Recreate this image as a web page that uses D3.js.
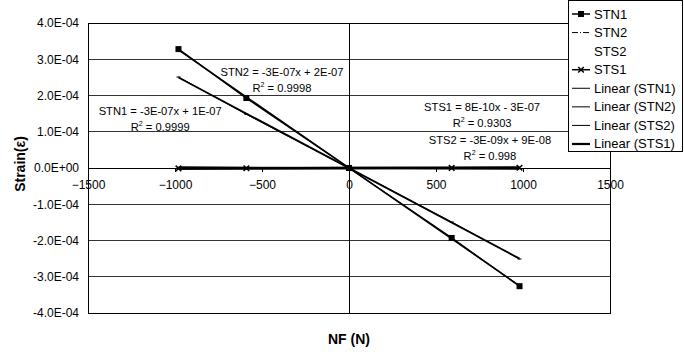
<!DOCTYPE html>
<html><head><meta charset="utf-8">
<script src="https://cdn.jsdelivr.net/npm/d3@7"></script>
<style>body{margin:0;background:#fff;} text{font-family:"Liberation Sans",Arial,sans-serif;}</style>
</head><body>
<svg id="c" width="684" height="352"></svg>
<script>
const xs = [-980, -590, 0, 590, 980];
const stn1 = [3.28e-4, 1.93e-4, 0, -1.93e-4, -3.26e-4];
const stn2 = [2.51e-4, 1.48e-4, 0, -1.49e-4, -2.51e-4];
const sts2 = [3.1e-6, 1.9e-6, 0, -1.7e-6, -2.9e-6];
const sts1 = [-1.2e-6, -7e-7, 0, 2e-7, 6e-7];
const xTicks = [-1500, -1000, -500, 0, 500, 1000, 1500];
const yTicks = [-4e-4, -3e-4, -2e-4, -1e-4, 0, 1e-4, 2e-4, 3e-4, 4e-4];
const legendNames = ["STN1", "STN2", "STS2", "STS1", "Linear (STN1)", "Linear (STN2)", "Linear (STS2)", "Linear (STS1)"];
const eqLabels = [
  {eq: "STN2 = -3E-07x + 2E-07", r2: "0.9998", x: -385, y: 2.55e-4},
  {eq: "STN1 = -3E-07x + 1E-07", r2: "0.9999", x: -1085, y: 1.45e-4},
  {eq: "STS1 = 8E-10x - 3E-07", r2: "0.9303", x: 765, y: 1.56e-4},
  {eq: "STS2 = -3E-09x + 9E-08", r2: "0.998", x: 810, y: 6.5e-5}
];

const svg = d3.select("#c");
const L = 88, R = 610, T = 23, B = 313;
const x = d3.scaleLinear().domain([-1500, 1500]).range([L, R]);
const y = d3.scaleLinear().domain([-4e-4, 4e-4]).range([B, T]);

svg.append("g").selectAll("line").data(yTicks).join("line")
  .attr("x1", L).attr("x2", R).attr("y1", d => y(d)).attr("y2", d => y(d))
  .attr("stroke", "#333").attr("stroke-width", 1).attr("shape-rendering", "crispEdges");
svg.append("rect").attr("x", L).attr("y", T).attr("width", R - L).attr("height", B - T)
  .attr("fill", "none").attr("stroke", "#000").attr("stroke-width", 1).attr("shape-rendering", "crispEdges");
svg.append("line").attr("x1", x(0)).attr("x2", x(0)).attr("y1", T).attr("y2", B)
  .attr("stroke", "#000").attr("shape-rendering", "crispEdges");
const xAxis = d3.axisBottom(x).tickValues(xTicks).tickSize(4).tickFormat(d3.format("d"));
const gx = svg.append("g").attr("transform", `translate(0,${y(0)})`).call(xAxis);
gx.select(".domain").attr("stroke", "#000").attr("shape-rendering", "crispEdges");
gx.selectAll(".tick line").attr("stroke", "#000").attr("shape-rendering", "crispEdges");
gx.selectAll(".tick text").attr("font-size", 12).attr("fill", "#000").attr("dy", 0)
  .attr("font-family", "Liberation Sans, Arial, sans-serif").attr("y", 21);

const fmtY = d => {
  if (d === 0) return "0.0E+00";
  const s = d.toExponential(1).toUpperCase();
  const m = s.match(/^(-?[\d.]+)E([+-])(\d+)$/);
  return m[1] + "E" + m[2] + m[3].padStart(2, "0");
};
const yAxis = d3.axisLeft(y).tickValues(yTicks).tickSize(0).tickPadding(9).tickFormat(fmtY);
const gy = svg.append("g").attr("transform", `translate(${L},0)`).call(yAxis);
gy.select(".domain").remove();
gy.selectAll(".tick text").attr("font-size", 12).attr("fill", "#000")
  .attr("font-family", "Liberation Sans, Arial, sans-serif");

function fit(vals) {
  const mx = d3.mean(xs), my = d3.mean(vals);
  let sxy = 0, sxx = 0;
  xs.forEach((xv, i) => { sxy += (xv - mx) * (vals[i] - my); sxx += (xv - mx) ** 2; });
  const b = sxy / sxx; return {b, a: my - b * mx};
}
const series = [stn1, stn2, sts2, sts1];
const trendW = [1.4, 1.8, 1.3, 2.5];
const [x0, x1] = d3.extent(xs);
series.forEach((vals, i) => {
  const f = fit(vals);
  svg.append("line").attr("x1", x(x0)).attr("x2", x(x1))
    .attr("y1", y(f.a + f.b * x0)).attr("y2", y(f.a + f.b * x1))
    .attr("stroke", "#000").attr("stroke-width", trendW[i]);
});

const line = d3.line().x((d, i) => x(xs[i])).y(d => y(d));
svg.append("path").attr("d", line(stn1)).attr("fill", "none").attr("stroke", "#000").attr("stroke-width", 1.5);
svg.append("g").selectAll("rect").data(stn1).join("rect")
  .attr("x", (d, i) => x(xs[i]) - 3).attr("y", d => y(d) - 3).attr("width", 6).attr("height", 6).attr("fill", "#000");
svg.append("path").attr("d", line(stn2)).attr("fill", "none").attr("stroke", "#000").attr("stroke-width", 1);
svg.append("g").selectAll("line").data(stn2).join("line")
  .attr("x1", (d, i) => x(xs[i]) - 2).attr("x2", (d, i) => x(xs[i]) + 2)
  .attr("y1", d => y(d)).attr("y2", d => y(d)).attr("stroke", "#000").attr("stroke-width", 1);
svg.append("path").attr("d", line(sts1)).attr("fill", "none").attr("stroke", "#000").attr("stroke-width", 2.5);
const star = d3.symbol().type(d3.symbolX).size(22);
svg.append("g").selectAll("path").data(sts1).join("path")
  .attr("d", star).attr("transform", (d, i) => `translate(${x(xs[i])},${y(d)})`)
  .attr("stroke", "#000").attr("stroke-width", 1.5).attr("fill", "none");

const eg = svg.append("g").attr("font-size", 11.2).attr("text-anchor", "middle").attr("fill", "#000");
eqLabels.forEach(l => {
  eg.append("text").attr("x", x(l.x)).attr("y", y(l.y)).text(l.eq);
  const t = eg.append("text").attr("x", x(l.x)).attr("y", y(l.y) + 16);
  t.append("tspan").text("R");
  t.append("tspan").attr("font-size", 7).attr("dy", -5).text("2");
  t.append("tspan").attr("dy", 5).text(" = " + l.r2);
});

svg.append("text").attr("x", x(0)).attr("y", 344).attr("text-anchor", "middle")
  .attr("font-size", 14).attr("font-weight", "bold").text("NF (N)");
svg.append("text").attr("transform", `translate(25,164) rotate(-90)`).attr("text-anchor", "middle")
  .attr("font-size", 14).attr("font-weight", "bold").text("Strain(ε)");

const lg = svg.append("g");
lg.append("rect").attr("x", 568.5).attr("y", 0.5).attr("width", 114).attr("height", 151)
  .attr("fill", "#fff").attr("stroke", "#000").attr("stroke-width", 1);
legendNames.forEach((n, i) => {
  const cy = 14 + i * 18.57;
  const g = lg.append("g");
  if (i === 0) {
    g.append("line").attr("x1", 572).attr("x2", 590).attr("y1", cy).attr("y2", cy).attr("stroke", "#000").attr("stroke-width", 1.5);
    g.append("rect").attr("x", 578).attr("y", cy - 3).attr("width", 6).attr("height", 6).attr("fill", "#000");
  } else if (i === 1) {
    g.append("line").attr("x1", 572).attr("x2", 590).attr("y1", cy).attr("y2", cy).attr("stroke", "#000").attr("stroke-width", 1).attr("stroke-dasharray", "6,2,1,2");
  } else if (i === 3) {
    g.append("line").attr("x1", 572).attr("x2", 590).attr("y1", cy).attr("y2", cy).attr("stroke", "#000").attr("stroke-width", 1.5);
    g.append("path").attr("d", star).attr("transform", `translate(581,${cy})`).attr("stroke", "#000").attr("stroke-width", 1.5);
  } else if (i >= 4) {
    g.append("line").attr("x1", 572).attr("x2", 590).attr("y1", cy).attr("y2", cy).attr("stroke", "#000").attr("stroke-width", i === 7 ? 2.2 : 1);
  }
  g.append("text").attr("x", 594).attr("y", cy + 4.5).attr("font-size", 13).text(n);
});
</script>
</body></html>
